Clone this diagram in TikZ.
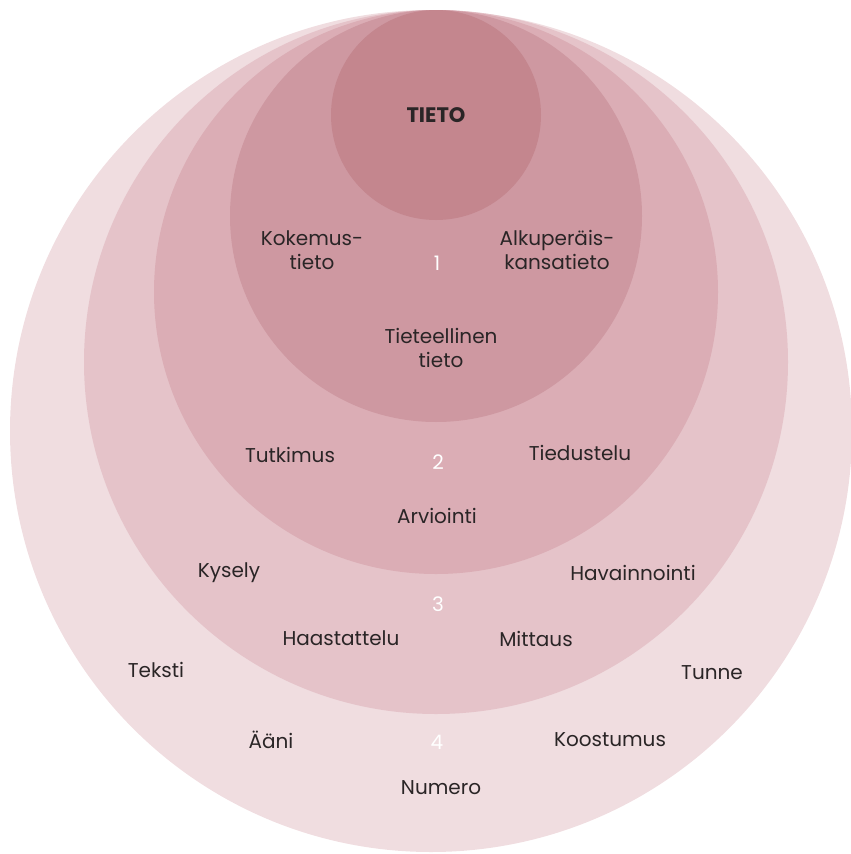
\documentclass[tikz,border=0pt]{standalone}
\usepackage{fontspec}
\setmainfont{Poppins}
\usepackage{tikz}
\usetikzlibrary{positioning}
\definecolor{ring4}{HTML}{F0DDE0}
\definecolor{ring3}{HTML}{E5C3C9}
\definecolor{ring2}{HTML}{DBADB5}
\definecolor{ring1}{HTML}{CE98A1}
\definecolor{core}{HTML}{C4868E}
\definecolor{txt}{HTML}{2A2526}
\tikzset{
    lbl/.style={text=txt,font=\fontsize{20}{24}\selectfont,align=center,inner sep=0pt},
    num/.style={text=white,font=\fontsize{20}{24}\selectfont,inner sep=0pt}
}

\begin{document}
\begin{tikzpicture}[x=1pt,y=-1pt]
        \useasboundingbox (0,0) rectangle (851,854);
        % rings, outer to inner
        \fill[ring4] (431,431) circle (421);
        \fill[ring3] (436,362) circle (352);
        \fill[ring2] (436,292) circle (282);
        \fill[ring1] (436,216) circle (206);
        \fill[core] (436,115) circle (105);
        \node[lbl,font=\fontsize{21}{24}\selectfont\bfseries] (tieto) at (436,115) {TIETO};
        % ring 1
        \node[num] (n1) at (437,263) {1};
        \node[lbl] (kokemus) at (312,250) {Kokemus-\\tieto};
        \node[lbl] (alkup) at (557,250) {Alkuperäis-\\kansatieto};
        \node[lbl] (tieteel) at (441,348) {Tieteellinen\\tieto};
        % ring 2
        \node[num] (n2) at (438,462) {2};
        \node[lbl] (tutkimus) at (290,455) {Tutkimus};
        \node[lbl] (tiedustelu) at (580,453) {Tiedustelu};
        \node[lbl] (arviointi) at (437,516) {Arviointi};
        % ring 3
        \node[num] (n3) at (438,604) {3};
        \node[lbl] (kysely) at (229,573) {Kysely};
        \node[lbl] (havainn) at (633,573) {Havainnointi};
        \node[lbl] (haast) at (341,638) {Haastattelu};
        \node[lbl] (mittaus) at (536,639) {Mittaus};
        % ring 4
        \node[num] (n4) at (437,742) {4};
        \node[lbl] (teksti) at (156,670) {Teksti};
        \node[lbl] (tunne) at (712,673) {Tunne};
        \node[lbl] (aani) at (271,740) {Ääni};
        \node[lbl] (koost) at (610,740) {Koostumus};
        \node[lbl] (numero) at (441,788) {Numero};
    \end{tikzpicture}
\end{document}
